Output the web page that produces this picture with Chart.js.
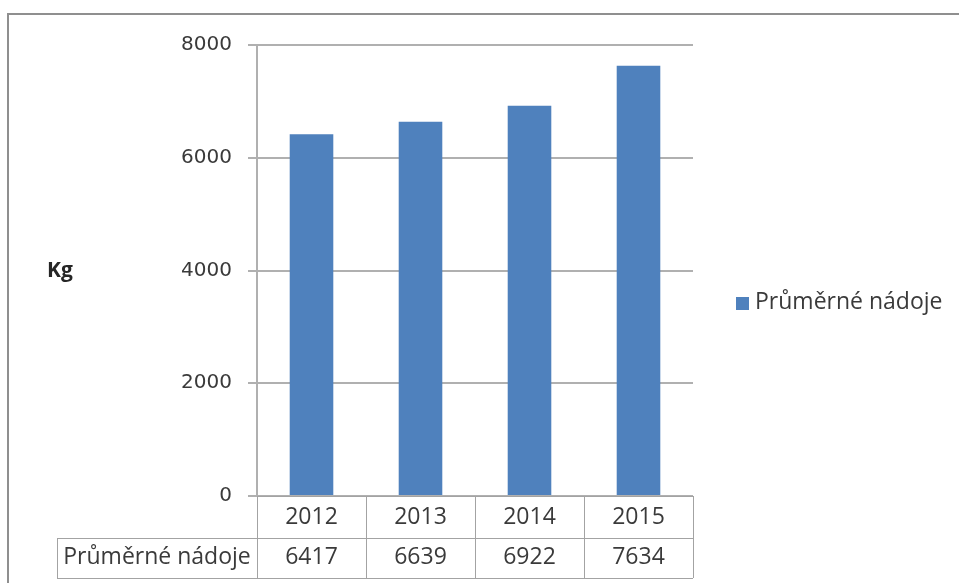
<!DOCTYPE html>
<html>
<head>
<meta charset="utf-8">
<script src="https://cdn.jsdelivr.net/npm/chart.js@4.4.1/dist/chart.umd.min.js"></script>
<style>
  body { margin: 0; background: #fff; }
  #wrap { width: 959px; height: 583px; }
</style>
</head>
<body>
<div id="wrap"><canvas id="milkChart" width="959" height="583"></canvas></div>
<script>
const years = ['2012', '2013', '2014', '2015'];
const milkYield = [6417, 6639, 6922, 7634];
const seriesName = 'Průměrné nádoje';
const yTicks = [0, 2000, 4000, 6000, 8000];
const axisTitle = 'Kg';

const lineGray = '#b0b0b0';
const tableGray = '#a3a3a3';
const barBlue = '#4f81bd';

// draws the frame, the axis title, the legend and the data table under the plot
const extras = {
    id: 'extras',
    beforeDraw(chart) {
        const ctx = chart.ctx;
        ctx.save();
        ctx.strokeStyle = '#8f8f8f';
        ctx.lineWidth = 2;
        ctx.strokeRect(8, 14, 970, 600);
        ctx.restore();
    },
    afterDraw(chart) {
        const ctx = chart.ctx;
        const area = chart.chartArea;
        const x = chart.scales.x;
        const ds = chart.data.datasets[0];
        const half = (x.getPixelForValue(1) - x.getPixelForValue(0)) / 2;
        const row1 = area.bottom;
        const row2 = 538;
        const row3 = 578;
        const labelLeft = 57;

        ctx.save();
        // table grid
        ctx.strokeStyle = tableGray;
        ctx.lineWidth = 1;
        ctx.beginPath();
        ctx.moveTo(area.left, row1 + 0.5); ctx.lineTo(area.right, row1 + 0.5);
        ctx.moveTo(labelLeft, row2 + 0.5); ctx.lineTo(area.right, row2 + 0.5);
        ctx.moveTo(labelLeft, row3 + 0.5); ctx.lineTo(area.right, row3 + 0.5);
        ctx.moveTo(labelLeft + 0.5, row2); ctx.lineTo(labelLeft + 0.5, row3);
        for (let i = 0; i <= years.length; i++) {
            const px = Math.round(i < years.length ? x.getPixelForValue(i) - half : x.getPixelForValue(i - 1) + half) + 0.5;
            ctx.moveTo(px, row1); ctx.lineTo(px, row3);
        }
        ctx.stroke();

        // table text
        ctx.fillStyle = '#3a3a3a';
        ctx.font = '23px "Open Sans"';
        ctx.textAlign = 'center';
        ctx.textBaseline = 'middle';
        years.forEach((yr, i) => {
            const cx = x.getPixelForValue(i);
            ctx.fillText(yr, cx, 517);
            ctx.fillText(String(ds.data[i]), cx, 557);
        });
        ctx.fillText(ds.label, (labelLeft + area.left) / 2, 557);

        // axis title
        ctx.font = 'bold 21px "Open Sans"';
        ctx.fillStyle = '#262626';
        ctx.textAlign = 'left';
        ctx.fillText(axisTitle, 47, 271);

        // legend
        ctx.fillStyle = ds.backgroundColor;
        ctx.fillRect(736, 297, 13, 13);
        ctx.fillStyle = '#3a3a3a';
        ctx.font = '23px "Open Sans"';
        ctx.textAlign = 'left';
        ctx.fillText(ds.label, 755, 302);
        ctx.restore();
    }
};

new Chart(document.getElementById('milkChart'), {
    type: 'bar',
    data: {
        labels: years,
        datasets: [{
            label: seriesName,
            data: milkYield,
            backgroundColor: barBlue,
            borderWidth: 0,
            categoryPercentage: 1,
            barPercentage: 0.4
        }]
    },
    options: {
        responsive: false,
        animation: false,
        layout: { padding: { top: 45, right: 266, bottom: 0, left: 0 } },
        plugins: {
            legend: { display: false },
            tooltip: { enabled: false }
        },
        scales: {
            x: {
                grid: { display: false },
                border: { display: false },
                ticks: { display: false },
                afterFit(scale) { scale.height = 87; }
            },
            y: {
                min: 0,
                max: 8000,
                afterBuildTicks(scale) { scale.ticks = yTicks.map(v => ({ value: v })); },
                afterFit(scale) { scale.width = 257; },
                grid: { color: lineGray, lineWidth: 2, tickLength: 9 },
                border: { color: lineGray, width: 2 },
                ticks: {
                    padding: 16,
                    color: '#3a3a3a',
                    font: { family: 'DejaVu Sans', size: 20 },
                    callback: v => String(v)
                }
            }
        }
    },
    plugins: [extras]
});
</script>
</body>
</html>
